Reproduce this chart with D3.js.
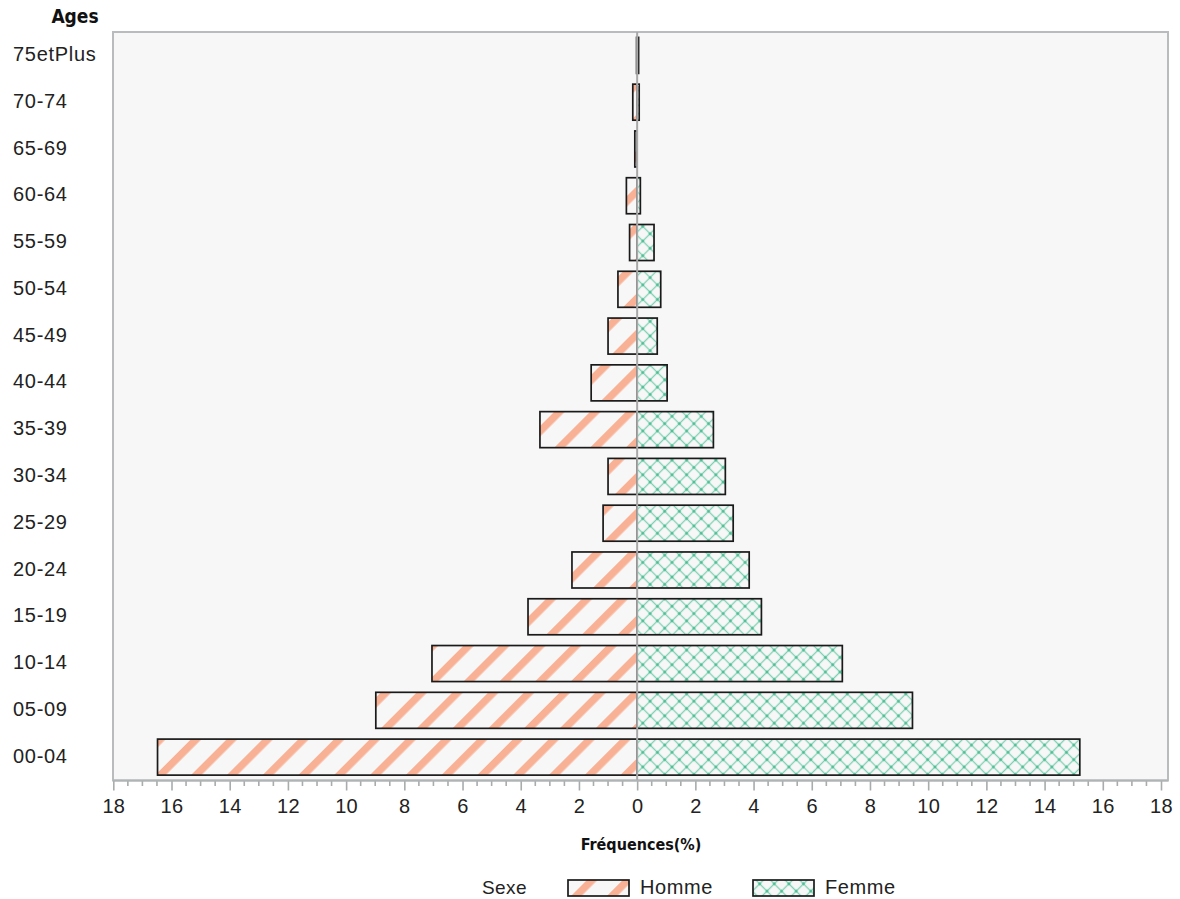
<!DOCTYPE html>
<html>
<head>
<meta charset="utf-8">
<script src="https://cdn.jsdelivr.net/npm/d3@7"></script>
<style>
  html, body { margin: 0; padding: 0; background: #ffffff; }
  svg { display: block; }
</style>
</head>
<body>
<svg id="chart" width="1180" height="899"></svg>
<script>
// ---- Data ----
const ages = ["00-04","05-09","10-14","15-19","20-24","25-29","30-34","35-39","40-44","45-49","50-54","55-59","60-64","65-69","70-74","75etPlus"];
const homme = [16.48, 8.98, 7.05, 3.75, 2.24, 1.17, 1.00, 3.34, 1.58, 1.00, 0.66, 0.26, 0.37, 0.08, 0.15, 0.02];
const femme = [15.21, 9.46, 7.05, 4.27, 3.85, 3.30, 3.03, 2.62, 1.03, 0.69, 0.81, 0.58, 0.11, 0.00, 0.07, 0.05];
const xTicks = [-18,-16,-14,-12,-10,-8,-6,-4,-2,0,2,4,6,8,10,12,14,16,18];
const seriesNames = ["Homme","Femme"];
const xTitle = "Fréquences(%)";
const yTitle = "Ages";
const legendTitle = "Sexe";

// ---- Layout ----
const svg = d3.select("#chart");
const plot = {left: 113, right: 1168, top: 32, bottom: 780.5};
const x = d3.scaleLinear().domain([-18, 18]).range([113.3, 1161]);
const y = d3.scaleBand().domain(ages.slice().reverse()).range([plot.top, plot.bottom]).paddingInner(0.23).paddingOuter(0.115);

const font = "'Liberation Sans', Arial, sans-serif";
const narrow = "'Liberation Sans Narrow', 'Arial Narrow', 'DejaVu Sans Condensed', sans-serif";

// ---- Patterns ----
const defs = svg.append("defs");
const hp = defs.append("pattern").attr("id", "pHomme").attr("patternUnits", "userSpaceOnUse")
  .attr("width", 25.3).attr("height", 25.3).attr("patternTransform", "rotate(45)");
hp.append("rect").attr("width", 25.3).attr("height", 25.3).attr("fill", "#f7f7f7");
hp.append("rect").attr("x", 0).attr("width", 7.4).attr("height", 25.3).attr("fill", "#f9b195");

const fp = defs.append("pattern").attr("id", "pFemme").attr("patternUnits", "userSpaceOnUse")
  .attr("width", 10.33).attr("height", 10.33).attr("patternTransform", "rotate(45)");
fp.append("rect").attr("width", 10.33).attr("height", 10.33).attr("fill", "#f7f7f7");
fp.append("line").attr("x1", 5.165).attr("x2", 5.165).attr("y1", 0).attr("y2", 10.33).attr("stroke", "#7dd2b3").attr("stroke-width", 1.3);
fp.append("line").attr("y1", 5.165).attr("y2", 5.165).attr("x1", 0).attr("x2", 10.33).attr("stroke", "#7dd2b3").attr("stroke-width", 1.3);
fp.append("rect").attr("x", 4.0).attr("y", 4.0).attr("width", 2.33).attr("height", 2.33).attr("fill", "#45bb8e");

// ---- Plot background & frame ----
svg.append("rect").attr("x", plot.left).attr("y", plot.top)
  .attr("width", plot.right - plot.left).attr("height", plot.bottom - plot.top)
  .attr("fill", "#f7f7f7").attr("stroke", "#b8bcbc").attr("stroke-width", 2);

// ---- Bars ----
const rows = ages.map((a, i) => ({age: a, h: homme[i], f: femme[i]}));
const g = svg.append("g");
g.selectAll("rect.h").data(rows).join("rect").attr("class", "h")
  .attr("x", d => x(-d.h)).attr("width", d => x(0) - x(-d.h))
  .attr("y", d => y(d.age)).attr("height", y.bandwidth())
  .attr("fill", "url(#pHomme)").attr("stroke", "#1a1a1a").attr("stroke-width", 1.7);
g.selectAll("rect.f").data(rows.filter(d => d.f > 0)).join("rect").attr("class", "f")
  .attr("x", x(0)).attr("width", d => x(d.f) - x(0))
  .attr("y", d => y(d.age)).attr("height", y.bandwidth())
  .attr("fill", "url(#pFemme)").attr("stroke", "#1a1a1a").attr("stroke-width", 1.7);

// zero reference line
svg.append("line").attr("x1", x(0)).attr("x2", x(0)).attr("y1", plot.top).attr("y2", plot.bottom)
  .attr("stroke", "#a8a8a8").attr("stroke-width", 2);

// ---- X axis ----
const xAxis = d3.axisBottom(x).tickValues(xTicks).tickFormat(d => Math.abs(d)).tickSize(10).tickSizeOuter(0).tickPadding(8);
const xa = svg.append("g").attr("transform", `translate(0,${plot.bottom})`).call(xAxis);
xa.select(".domain").remove();
xa.selectAll(".tick line").attr("stroke", "#a8acac").attr("stroke-width", 1.6);
xa.selectAll(".tick text").attr("font-family", font).attr("font-size", 20).attr("letter-spacing", "0.3px").attr("fill", "#222");
// minor ticks
const minor = d3.range(-18, 18.01, 0.5).filter(v => Math.abs(v % 2) > 0.01);
svg.append("g").selectAll("line").data(minor).join("line")
  .attr("x1", d => x(d)).attr("x2", d => x(d)).attr("y1", plot.bottom).attr("y2", plot.bottom + 5.5)
  .attr("stroke", "#a8acac").attr("stroke-width", 1.6);
svg.append("line").attr("x1", plot.left).attr("x2", plot.right).attr("y1", plot.bottom).attr("y2", plot.bottom)
  .attr("stroke", "#b0b4b4").attr("stroke-width", 2);

// ---- Y labels ----
svg.append("g").selectAll("text").data(ages).join("text")
  .attr("x", 13).attr("y", d => y(d) + y.bandwidth() / 2).attr("dy", "0.28em")
  .attr("font-family", font).attr("font-size", 20).attr("letter-spacing", "0.7px").attr("fill", "#222").text(d => d);

// ---- Titles ----
svg.append("text").attr("x", 75).attr("y", 23).attr("text-anchor", "middle")
  .attr("font-family", narrow).attr("font-weight", "bold").attr("font-size", 19).attr("fill", "#111").text(yTitle);
svg.append("text").attr("x", 641).attr("y", 850).attr("text-anchor", "middle")
  .attr("font-family", narrow).attr("font-weight", "bold").attr("font-size", 16).attr("fill", "#111").text(xTitle);

// ---- Legend ----
const ly = 887;
svg.append("text").attr("x", 482).attr("y", ly).attr("dy", "0.36em")
  .attr("font-family", font).attr("font-size", 19).attr("letter-spacing", "0.4px").attr("fill", "#222").text(legendTitle);
const legendItems = [
  {name: seriesNames[0], fill: "url(#pHomme)", x: 568},
  {name: seriesNames[1], fill: "url(#pFemme)", x: 753}
];
const li = svg.append("g").selectAll("g").data(legendItems).join("g");
li.append("rect").attr("x", d => d.x).attr("y", 880).attr("width", 61).attr("height", 16)
  .attr("fill", d => d.fill).attr("stroke", "#1a1a1a").attr("stroke-width", 1.7);
li.append("text").attr("x", d => d.x + 72).attr("y", ly).attr("dy", "0.36em")
  .attr("font-family", font).attr("font-size", 20).attr("letter-spacing", "0.6px").attr("fill", "#222").text(d => d.name);
</script>
</body>
</html>
